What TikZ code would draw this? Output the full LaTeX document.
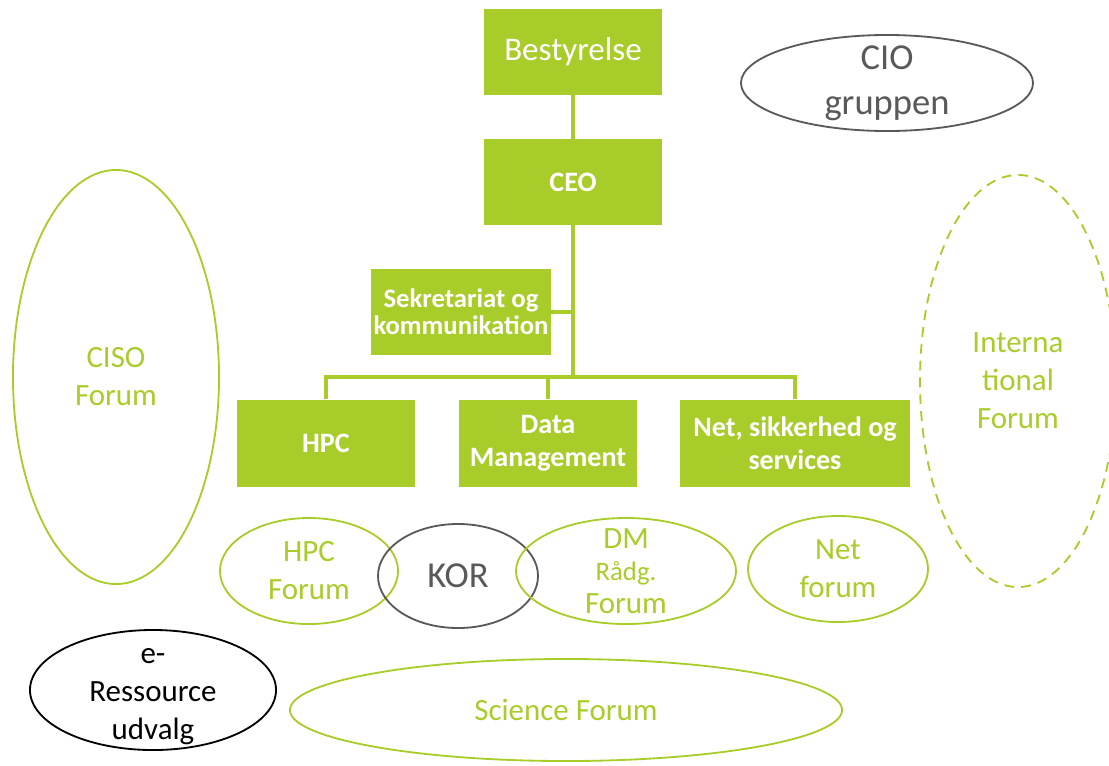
\documentclass[tikz,border=0pt]{standalone}
\usepackage{fontspec}
\setmainfont{Carlito}
\usetikzlibrary{shapes.geometric,positioning}
\definecolor{lime}{RGB}{168,204,42}
\definecolor{darkgrey}{RGB}{89,89,89}

\begin{document}
\begin{tikzpicture}[x=0.025cm, y=-0.025cm,
    unit/.style={fill=lime, text=white, align=center, inner sep=1pt,
        minimum height=2.15cm, font=\fontsize{20}{23.5}\selectfont\bfseries},
    ring/.style={ellipse, draw=lime, line width=1.3pt, inner sep=0pt},
    ringtext/.style={text=lime, align=center, font=\fontsize{22}{27}\selectfont},
    link/.style={draw=lime, line width=2.8pt}]
    \clip (0,0) rectangle (1109,765);

    % Units of the organisation
    \node[unit, minimum width=4.45cm, font=\fontsize{23.5}{27}\selectfont] (board) at (573,52) {Bestyrelse};
    \node[unit, minimum width=4.45cm] (ceo) at (573,182) {CEO};
    \node[unit, minimum width=4.475cm, minimum height=2.125cm, font=\fontsize{19}{19.5}\selectfont\bfseries] (secr) at (461,312) {Sekretariat og\\kommunikation};
    \node[unit, minimum width=4.45cm, minimum height=2.175cm] (hpc) at (326,443) {HPC};
    \node[unit, minimum width=4.45cm, minimum height=2.175cm] (dm) at (548,443) {Data\\Management};
    \node[unit, minimum width=5.75cm, minimum height=2.175cm] (net) at (795,443) {Net, sikkerhed og\\services};

    % Lines between units
    \coordinate (split) at (573,377);
    \draw[link] (board) -- (ceo);
    \draw[link] (ceo) -- (split);
    \draw[link] (secr.east) -- (secr.east -| split);
    \draw[link] (hpc.north) |- (split) -| (net.north);
    \draw[link] (dm.north) -- (dm.north |- split);

    % Forums round the units
    \node[ring, draw=darkgrey, minimum width=7.3cm, minimum height=2.4cm] (cio) at (887,83) {};
    \node[text=darkgrey, align=center, font=\fontsize{26}{32}\selectfont] (ciotext) at (cio.center) {CIO\\gruppen};

    \node[ring, minimum width=5.15cm, minimum height=10.35cm] (ciso) at (116,377) {};
    \node[ringtext] (cisotext) at (ciso.center) {CISO\\Forum};

    \node[ring, dashed, dash pattern=on 7pt off 5pt, minimum width=4.9cm, minimum height=10.3cm] (intl) at (1018,381) {};
    \node[ringtext] (intltext) at (intl.center) {Interna\\tional\\Forum};

    \node[ring, minimum width=4.45cm, minimum height=2.65cm] (hpcf) at (309,571) {};
    \node[ringtext] (hpcftext) at (hpcf.center) {HPC\\Forum};

    \node[ring, draw=darkgrey, minimum width=4cm, minimum height=2.6cm] (kor) at (458,576) {};
    \node[text=darkgrey, font=\fontsize{26}{30}\selectfont] (kortext) at (kor.center) {KOR};

    \node[ring, minimum width=5.5cm, minimum height=2.65cm] (dmf) at (626,571) {};
    \node[ringtext] (dmftext) at (dmf.center) {DM\\[-4pt]{\fontsize{19}{22}\selectfont Rådg.}\\[-4pt]Forum};

    \node[ring, minimum width=4.5cm, minimum height=2.65cm] (netf) at (838,569) {};
    \node[ringtext] (netftext) at (netf.center) {Net\\forum};

    \node[ring, draw=black, minimum width=6.15cm, minimum height=3cm] (eres) at (153,690) {};
    \node[align=center, font=\fontsize{22}{27}\selectfont] (erestext) at ([yshift=-5pt]eres.center) {e-\\Ressource\\udvalg};

    \node[ring, minimum width=13.8cm, minimum height=2.55cm] (sci) at (566,710) {};
    \node[ringtext] (scitext) at (sci.center) {Science Forum};
\end{tikzpicture}
\end{document}
